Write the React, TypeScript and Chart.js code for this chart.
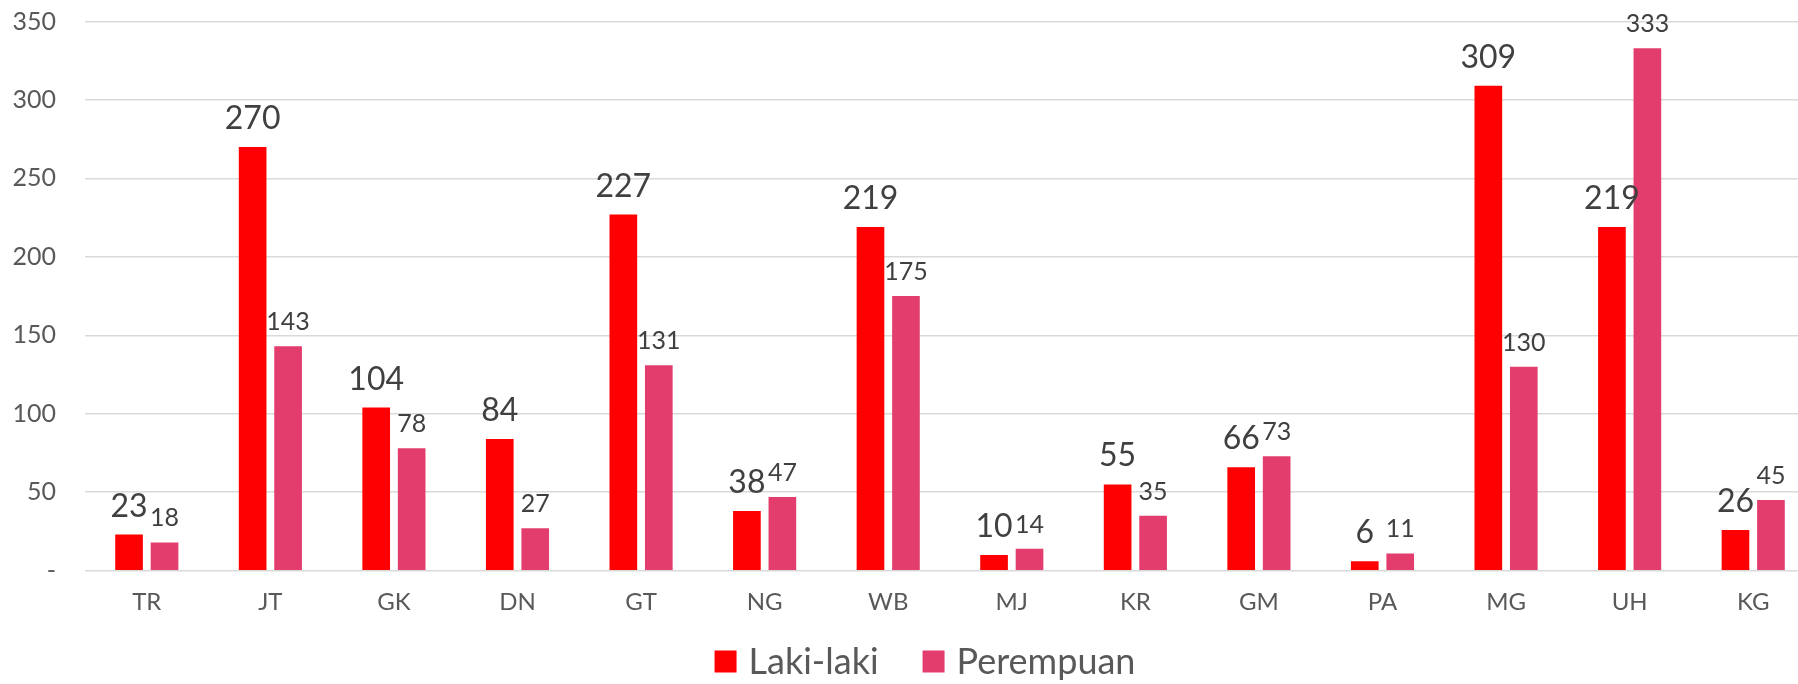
import React, { useEffect, useRef } from "react";
import { Chart, registerables } from "chart.js";

Chart.register(...registerables);

const categories = ["TR", "JT", "GK", "DN", "GT", "NG", "WB", "MJ", "KR", "GM", "PA", "MG", "UH", "KG"];
const lakiLaki = [23, 270, 104, 84, 227, 38, 219, 10, 55, 66, 6, 309, 219, 26];
const perempuan = [18, 143, 78, 27, 131, 47, 175, 14, 35, 73, 11, 130, 333, 45];
const seriesNames = ["Laki-laki", "Perempuan"];
const yTicks = [0, 50, 100, 150, 200, 250, 300, 350];

const RED = "#FF0000";
const PINK = "#E33D6E";
const TEXT = "#595959";
const LABEL = "#404040";
const FONT = "Lato";

const dataLabelPlugin = {
  id: "dataLabels",
  afterDatasetsDraw(chart: any) {
    const ctx = chart.ctx;
    ctx.save();
    ctx.textAlign = "center";
    ctx.textBaseline = "alphabetic";
    ctx.fillStyle = LABEL;
    chart.data.datasets.forEach((ds: any, di: number) => {
      const meta = chart.getDatasetMeta(di);
      const size = di === 0 ? 32 : 25;
      const off = di === 0 ? 18 : 16;
      ctx.font = `${size}px ${FONT}`;
      meta.data.forEach((el: any, i: number) => {
        ctx.fillText(String(ds.data[i]), el.x, el.y - off);
      });
    });
    ctx.restore();
  },
};

const legendPlugin = {
  id: "customLegend",
  afterDraw(chart: any) {
    const ctx = chart.ctx;
    ctx.save();
    ctx.font = `36px ${FONT}`;
    ctx.textBaseline = "alphabetic";
    ctx.textAlign = "left";
    const box = 22;
    const gapText = 12;
    const gapItem = 44;
    const items = chart.data.datasets.map((d: any) => ({ label: d.label, color: d.backgroundColor }));
    const widths = items.map((it: any) => ctx.measureText(it.label).width);
    let total = 0;
    widths.forEach((w: number, i: number) => {
      total += box + gapText + w + (i < widths.length - 1 ? gapItem : 0);
    });
    let x = 925 - total / 2;
    const cy = 661.5;
    items.forEach((it: any, i: number) => {
      ctx.fillStyle = it.color;
      ctx.fillRect(x, cy - box / 2, box, box);
      ctx.fillStyle = TEXT;
      ctx.fillText(it.label, x + box + gapText, cy + 12.5);
      x += box + gapText + widths[i] + gapItem;
    });
    ctx.restore();
  },
};

export default function App() {
  const ref = useRef<HTMLCanvasElement>(null);
  useEffect(() => {
    document.body.style.margin = "0";
    const canvas = ref.current;
    if (!canvas) return;
    const chart = new Chart(canvas, {
      type: "bar",
      data: {
        labels: categories,
        datasets: [
          {
            label: seriesNames[0],
            data: lakiLaki,
            backgroundColor: RED,
            categoryPercentage: 0.574,
            barPercentage: 0.78,
          },
          {
            label: seriesNames[1],
            data: perempuan,
            backgroundColor: PINK,
            categoryPercentage: 0.574,
            barPercentage: 0.78,
          },
        ],
      },
      options: {
        responsive: false,
        animation: false,
        layout: { padding: { top: 21.5, bottom: 64, left: 0, right: 0 } },
        plugins: {
          legend: { display: false },
          tooltip: { enabled: false },
        },
        scales: {
          x: {
            grid: { display: false },
            border: { display: false },
            ticks: {
              color: TEXT,
              font: { family: FONT, size: 24 },
              padding: 9,
              maxRotation: 0,
              autoSkip: false,
            },
            afterFit: (s: any) => {
              s.height = 49.3;
              s.paddingLeft = 0;
              s.paddingRight = 0;
              s.paddingTop = 0;
              s.paddingBottom = 0;
            },
          },
          y: {
            min: 0,
            max: 350,
            afterBuildTicks: (s: any) => {
              s.ticks = yTicks.map((v) => ({ value: v }));
            },
            ticks: {
              color: TEXT,
              font: { family: FONT, size: 25 },
              padding: 29,
              callback: (v: any) => (Number(v) === 0 ? "-" : String(v)),
            },
            grid: { color: "#D9D9D9", lineWidth: 1.5, drawTicks: false },
            border: { display: false },
            afterFit: (s: any) => {
              s.width = 85;
              s.paddingTop = 0;
              s.paddingBottom = 0;
              s.paddingLeft = 0;
              s.paddingRight = 0;
            },
          },
        },
      },
      plugins: [dataLabelPlugin, legendPlugin],
    });
    return () => chart.destroy();
  }, []);
  return (
    <div style={{ width: 1798, height: 684, overflow: "hidden", position: "relative", background: "#fff" }}>
      <canvas ref={ref} width={1815} height={684} style={{ display: "block" }} />
    </div>
  );
}
